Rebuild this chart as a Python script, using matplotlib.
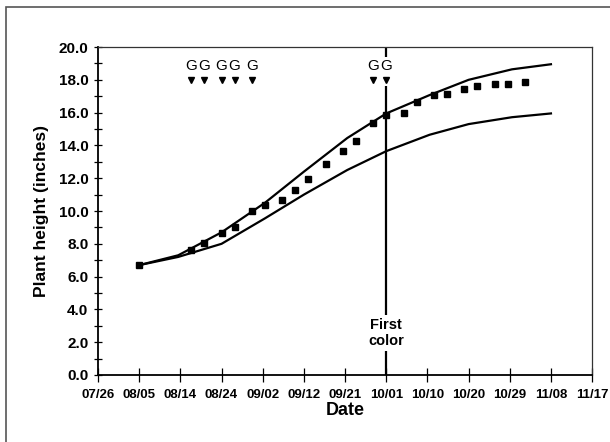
import numpy as np
import matplotlib
matplotlib.use("Agg")
import matplotlib.pyplot as plt
from matplotlib.patches import Rectangle
from matplotlib.ticker import MultipleLocator

plt.rcParams['font.family'] = ['Liberation Sans', 'DejaVu Sans']

# days counted from 07/26
tick_labels = ['07/26', '08/05', '08/14', '08/24', '09/02', '09/12', '09/21',
               '10/01', '10/10', '10/20', '10/29', '11/08', '11/17']

# measured plant heights (squares)
obs_days = [10, 22, 25, 29, 32, 36, 39, 43, 46, 49, 53, 57, 60, 64, 67,
            71, 74, 78, 81, 85, 88, 92, 95, 99]
obs_height = [6.7, 7.6, 8.07, 8.64, 9.0, 10.0, 10.37, 10.67, 11.3, 11.95, 12.85,
              13.64, 14.29, 15.35, 15.87, 15.95, 16.65, 17.07, 17.13, 17.42,
              17.62, 17.72, 17.72, 17.84]

# upper and lower guide curves
curve_days = [10, 19, 29, 39, 48, 58, 67, 77, 86, 96, 105]
upper_height = [6.7, 7.3, 8.7, 10.5, 12.4, 14.45, 15.95, 17.07, 18.0, 18.64, 18.95]
lower_height = [6.7, 7.2, 8.0, 9.55, 11.0, 12.5, 13.65, 14.65, 15.3, 15.72, 15.95]

# growth regulator (G) application dates
g_days = [22, 25, 29, 32, 36, 64, 67]
first_color_day = 67

fig = plt.figure(figsize=(6.1, 4.42), dpi=100)
ax = fig.add_axes([0.1607, 0.1516, 0.81, 0.742])

# outer frame (only left/top visible in the reference)
fig.patches.append(Rectangle((6 / 610, -0.05), 1.1, 1 - 7 / 442 + 0.05,
                             transform=fig.transFigure, fill=False,
                             edgecolor='#555555', linewidth=1.2))

ax.plot(curve_days, upper_height, color='black', lw=1.6, zorder=2)
ax.plot(curve_days, lower_height, color='black', lw=1.6, zorder=2)
ax.plot(obs_days, obs_height, 's', color='black', markersize=5, zorder=3)

# first color marker line
ax.vlines(first_color_day, 0, 17.6, color='black', lw=1.6, zorder=2)
ax.vlines(first_color_day, 19.4, 20, color='black', lw=1.6, zorder=2)
ax.text(first_color_day, 2.55, 'First\ncolor', ha='center', va='center',
        fontsize=10.5, fontweight='bold', linespacing=1.2,
        bbox=dict(facecolor='white', edgecolor='none', pad=2), zorder=4)

ax.plot(g_days, [18.0] * len(g_days), 'v', color='black', markersize=4, zorder=3)
for d in g_days:
    ax.text(d, 18.85, 'G', ha='center', va='center', fontsize=11, zorder=4)

ax.set_xlim(0.5, 114.5)
ax.set_ylim(0, 20)
ax.set_xticks(np.arange(0.5, 114.6, 9.5))
ax.set_xticklabels(tick_labels)
ax.yaxis.set_major_locator(MultipleLocator(2))
ax.yaxis.set_minor_locator(MultipleLocator(1))
ax.yaxis.set_major_formatter(matplotlib.ticker.FormatStrFormatter('%.1f'))

ax.tick_params(axis='x', direction='inout', length=10, width=0.9, pad=5, labelsize=9.5)
ax.tick_params(axis='y', which='both', direction='inout', length=6, width=0.9,
               pad=4, labelsize=11)
for lab in ax.get_xticklabels() + ax.get_yticklabels():
    lab.set_fontweight('bold')

for side in ['left', 'bottom']:
    ax.spines[side].set_linewidth(1.3)
for side in ['top', 'right']:
    ax.spines[side].set_linewidth(0.9)
    ax.spines[side].set_color('#333333')

ax.set_xlabel('Date', fontsize=13, fontweight='bold', labelpad=1)
ax.set_ylabel('Plant height (inches)', fontsize=12.5, fontweight='bold', labelpad=7)

fig.savefig('out.png', dpi=100)
